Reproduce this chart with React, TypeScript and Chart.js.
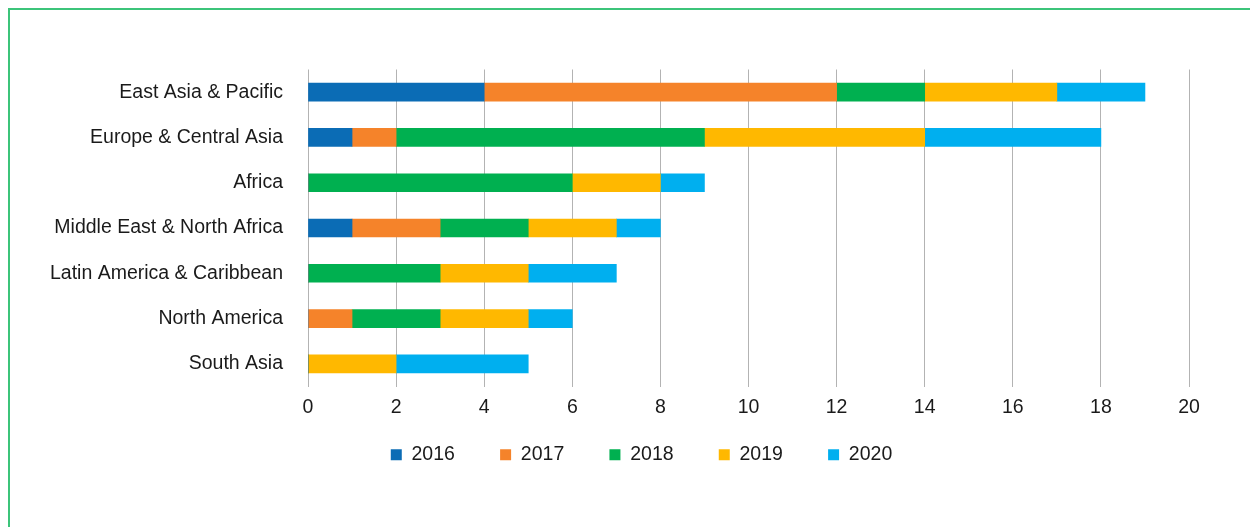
import React, { useEffect, useRef } from "react";
import { Chart, registerables } from "chart.js";

Chart.register(...registerables);

const categories = [
  "East Asia & Pacific",
  "Europe & Central Asia",
  "Africa",
  "Middle East & North Africa",
  "Latin America & Caribbean",
  "North America",
  "South Asia",
];

const series2016 = [4, 1, 0, 1, 0, 0, 0];
const series2017 = [8, 1, 0, 2, 0, 1, 0];
const series2018 = [2, 7, 6, 2, 3, 2, 0];
const series2019 = [3, 5, 2, 2, 2, 2, 2];
const series2020 = [2, 4, 1, 1, 2, 1, 3];

const seriesLabels = ["2016", "2017", "2018", "2019", "2020"];
const seriesColors = ["#0B6CB5", "#F5832A", "#00B050", "#FFB800", "#00AFEF"];

const xTickMin = 0;
const xTickMax = 20;
const xTickStep = 2;

const FONT = "'Liberation Sans', Arial, sans-serif";
const FONT_SIZE = 19.5;

const legendPlacer = {
  id: "legendPlacer",
  afterLayout(chart: any) {
    const lg = chart.legend;
    if (!lg) return;
    const h = lg.height;
    lg.left = 84;
    lg.right = 1179;
    lg.width = lg.right - lg.left;
    lg.top = 389.75;
    lg.bottom = lg.top + h;
  },
};

export default function App() {
  const canvasRef = useRef<HTMLCanvasElement | null>(null);

  useEffect(() => {
    document.body.style.overflow = "hidden";
    const canvas = canvasRef.current;
    if (!canvas) return;
    const allSeries = [series2016, series2017, series2018, series2019, series2020];
    const chart = new Chart(canvas, {
      type: "bar",
      data: {
        labels: categories,
        datasets: allSeries.map((data, i) => ({
          label: seriesLabels[i],
          data,
          backgroundColor: seriesColors[i],
          borderWidth: 0,
          barThickness: 18,
        })),
      },
      options: {
        indexAxis: "y",
        animation: false,
        responsive: false,
        maintainAspectRatio: false,
        layout: {
          padding: { left: 30, right: 61, top: 59.5, bottom: 31.8 },
        },
        scales: {
          x: {
            stacked: true,
            min: xTickMin,
            max: xTickMax,
            grid: {
              display: true,
              color: "#b3b3b3",
              lineWidth: 1,
              drawTicks: false,
            },
            border: { display: false },
            ticks: {
              stepSize: xTickStep,
              padding: 9.5,
              color: "#1a1a1a",
              font: { family: FONT, size: FONT_SIZE },
            },
            afterFit: (scale: any) => {
              scale.height = 34;
            },
          },
          y: {
            stacked: true,
            grid: { display: false, drawTicks: false },
            border: { display: false },
            ticks: {
              padding: 25,
              color: "#1a1a1a",
              font: { family: FONT, size: FONT_SIZE },
            },
            afterFit: (scale: any) => {
              scale.width = 268;
            },
          },
        },
        plugins: {
          legend: {
            position: "bottom",
            labels: {
              boxWidth: 11,
              boxHeight: 11,
              padding: 45.2,
              color: "#1a1a1a",
              font: { family: FONT, size: FONT_SIZE },
            },
          },
          tooltip: { enabled: false },
        },
      },
      plugins: [legendPlacer],
    });
    return () => chart.destroy();
  }, []);

  return (
    <div
      style={{
        position: "absolute",
        left: 8,
        top: 8,
        width: 1242,
        height: 519,
        boxSizing: "border-box",
        borderTop: "2px solid #3cc47a",
        borderLeft: "2px solid #3cc47a",
        background: "#ffffff",
      }}
    >
      <canvas ref={canvasRef} width={1240} height={517} style={{ display: "block", width: 1240, height: 517 }} />
    </div>
  );
}
